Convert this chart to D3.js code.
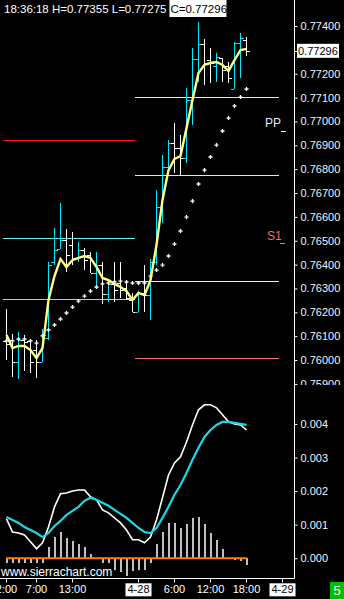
<html>
<script src="https://d3js.org/d3.v7.min.js"></script>
<style>
body {margin:0; background:#000;}
svg {display:block; background:#000; font-family:"Liberation Sans", Arial, sans-serif;}
</style>
<body>
<svg width=344 height=599></svg>
<script>
// hourly bars, 4-27 2:00 .. 4-28 18:00
var opens  = [0.76080,0.76084,0.75992,0.76084,0.76080,0.76042,0.75992,0.76092,0.76411,0.76465,0.76503,0.76482,0.76428,0.76461,0.76440,0.76365,0.76398,0.76277,0.76319,0.76323,0.76302,0.76252,0.76201,0.76281,0.76272,0.76411,0.76641,0.76809,0.76910,0.76889,0.76847,0.77090,0.77262,0.77325,0.77257,0.77232,0.77266,0.77232,0.77136,0.77329,0.77340];
var highs  = [0.76214,0.76109,0.76117,0.76105,0.76084,0.76084,0.76130,0.76411,0.76553,0.76658,0.76549,0.76537,0.76495,0.76469,0.76453,0.76453,0.76411,0.76319,0.76411,0.76411,0.76327,0.76281,0.76289,0.76398,0.76423,0.76713,0.76859,0.76922,0.76993,0.76943,0.77140,0.77308,0.77417,0.77346,0.77308,0.77287,0.77266,0.77249,0.77333,0.77371,0.77355];
var lows   = [0.76000,0.75929,0.75920,0.75954,0.75946,0.75925,0.75992,0.76084,0.76398,0.76465,0.76369,0.76398,0.76411,0.76377,0.76365,0.76306,0.76235,0.76243,0.76243,0.76260,0.76252,0.76201,0.76201,0.76201,0.76168,0.76398,0.76574,0.76775,0.76784,0.76775,0.76826,0.76985,0.77165,0.77153,0.77161,0.77165,0.77165,0.77161,0.77136,0.77182,0.77275];
var closes = [0.76067,0.75992,0.76084,0.76075,0.75992,0.75992,0.76105,0.76398,0.76461,0.76503,0.76440,0.76428,0.76461,0.76419,0.76365,0.76398,0.76277,0.76319,0.76293,0.76293,0.76260,0.76201,0.76281,0.76272,0.76411,0.76641,0.76809,0.76910,0.76889,0.76847,0.77090,0.77262,0.77325,0.77245,0.77245,0.77270,0.77216,0.77182,0.77329,0.77350,0.77296];
var fastMA = [0.76105,0.76050,0.76059,0.76059,0.76042,0.76008,0.76050,0.76252,0.76352,0.76423,0.76390,0.76419,0.76428,0.76436,0.76428,0.76390,0.76344,0.76335,0.76319,0.76306,0.76289,0.76252,0.76281,0.76272,0.76335,0.76482,0.76671,0.76796,0.76843,0.76855,0.76972,0.77090,0.77203,0.77237,0.77245,0.77249,0.77237,0.77211,0.77257,0.77299,0.77304];
var slowMA = [0.76080,0.76080,0.76088,0.76088,0.76080,0.76071,0.76101,0.76126,0.76147,0.76172,0.76197,0.76222,0.76247,0.76268,0.76289,0.76306,0.76319,0.76323,0.76327,0.76331,0.76327,0.76323,0.76323,0.76323,0.76352,0.76377,0.76398,0.76436,0.76486,0.76541,0.76599,0.76666,0.76738,0.76796,0.76851,0.76901,0.76960,0.77014,0.77065,0.77102,0.77136];
var macd   = [0.00117,0.00078,0.00075,0.00069,0.00049,0.00028,0.00046,0.00093,0.00153,0.00192,0.00194,0.00200,0.00203,0.00203,0.00183,0.00174,0.00144,0.00135,0.00120,0.00105,0.00084,0.00055,0.00055,0.00046,0.00063,0.00114,0.00180,0.00248,0.00284,0.00302,0.00346,0.00397,0.00442,0.00457,0.00457,0.00448,0.00427,0.00406,0.00400,0.00397,0.00382];
var signal = [0.00123,0.00114,0.00105,0.00093,0.00084,0.00075,0.00063,0.00075,0.00096,0.00111,0.00129,0.00141,0.00153,0.00171,0.00180,0.00174,0.00165,0.00156,0.00144,0.00132,0.00120,0.00105,0.00090,0.00078,0.00075,0.00090,0.00120,0.00153,0.00189,0.00218,0.00254,0.00293,0.00329,0.00361,0.00382,0.00397,0.00406,0.00406,0.00403,0.00400,0.00397];
var hist   = [-0.00015,-0.00015,-0.00015,-0.00015,-0.00015,-0.00015,-0.00015,0.00034,0.00063,0.00078,0.00060,0.00052,0.00043,0.00034,0.00013,-0.00002,-0.00014,-0.00014,-0.00035,-0.00041,-0.00053,-0.00038,-0.00035,-0.00035,-0.00014,0.00043,0.00078,0.00105,0.00105,0.00090,0.00102,0.00120,0.00123,0.00102,0.00075,0.00055,0.00028,-0.00002,-0.00005,-0.00008,-0.00020];

// 0.773 is hidden behind the last-price tag
var priceTicks = [0.759,0.760,0.761,0.762,0.763,0.764,0.765,0.766,0.767,0.768,0.769,0.770,0.771,0.772,0.774];
var macdTicks  = [0.000,0.001,0.002,0.003,0.004];
var timeIdx    = [0,5,11,22,28,34,40,46];
var timeLabels = ["2:00","7:00","13:00","4-28","6:00","12:00","18:00","4-29"];

// pivot lines: previous day (left) and current day (right)
var levelPrices = [0.76922,0.76510,0.76254,0.77101,0.76774,0.76331,0.76007];
var levelFrom   = [-0.5,-0.5,-0.5,21.5,21.5,21.5,21.5];
var levelTo     = [21.5,21.5,21.5,45.5,45.5,45.5,45.5];
var levelColors = ["#ff1010","#66eeff","#66eeff","#a8ffff","#a8ffff","#f0f0f0","#ff6a6a"];

var svg = d3.select("svg");
var x = d3.scaleLinear().domain([-1,48]).range([0,294]);
var y = d3.scaleLinear().domain([0.75887,0.77509]).range([387,0]);
var ym = d3.scaleLinear().domain([-0.00059,0.00501]).range([578,390]);
var idx = d3.range(closes.length);

// price axis (clipped at panel bottom)
svg.append("clipPath").attr("id","pclip").append("rect").attr("x",0).attr("y",0).attr("width",344).attr("height",385);
var pax = svg.append("g").attr("clip-path","url(#pclip)")
  .attr("transform","translate(294.5,0)")
  .call(d3.axisRight(y).tickValues(priceTicks).tickFormat(d3.format(".5f")).tickSize(3).tickSizeOuter(0));
pax.select(".domain").remove();
var max = svg.append("g").attr("transform","translate(294.5,0)")
  .call(d3.axisRight(ym).tickValues(macdTicks).tickFormat(d3.format(".3f")).tickSize(3).tickSizeOuter(0));
max.select(".domain").remove();
svg.selectAll(".tick line").attr("stroke","#fff");
svg.selectAll(".tick text").attr("fill","#eef4ff").style("font-size","11px").style("font-family","Liberation Sans, Arial");

// frame lines
svg.append("line").attr("x1",294.5).attr("x2",294.5).attr("y1",0).attr("y2",578.5).attr("stroke","#fff");

// time axis
var tax = svg.append("g").attr("transform","translate(0,578.5)")
  .call(d3.axisBottom(x).tickValues(timeIdx).tickFormat(function(d,i){return timeLabels[i];}).tickSize(4).tickSizeOuter(0));
tax.select(".domain").attr("stroke","#fff").attr("d","M0,0H294.5");
tax.selectAll(".tick line").attr("stroke","#fff");
tax.selectAll(".tick text").attr("fill","#fff").style("font-size","11px").style("font-family","Liberation Sans, Arial");
tax.selectAll(".tick").filter(function(d,i){return timeLabels[i].indexOf("-")>0;}).each(function(){
  var g = d3.select(this), t = g.select("text"), b = t.node().getBBox();
  g.insert("rect","text").attr("x",b.x-2).attr("y",b.y).attr("width",b.width+4).attr("height",b.height+1).attr("fill","#fff");
  t.attr("fill","#000");
});

// pivot lines
svg.append("g").selectAll("line").data(levelPrices).enter().append("line")
  .attr("x1",function(d,i){return x(levelFrom[i]);})
  .attr("x2",function(d,i){return x(levelTo[i]);})
  .attr("y1",function(d){return Math.round(y(d))+0.5;})
  .attr("y2",function(d){return Math.round(y(d))+0.5;})
  .attr("stroke",function(d,i){return levelColors[i];});

svg.append("text").attr("x",265).attr("y",127).attr("fill","#dcecff").style("font-size","12px").text("PP");
svg.append("line").attr("x1",281).attr("x2",286).attr("y1",131.5).attr("y2",131.5).attr("stroke","#fff");
svg.append("text").attr("x",267).attr("y",240).attr("fill","#ff6a6a").style("font-size","12px").text("S1");
svg.append("line").attr("x1",280).attr("x2",285).attr("y1",243.5).attr("y2",243.5).attr("stroke","#ff6a6a");

// OHLC bars
var bars = svg.append("g").attr("shape-rendering","crispEdges").selectAll("g").data(idx).enter().append("g")
  .attr("stroke",function(i){return closes[i]>opens[i]?"#00e8ff":"#fff";});
bars.append("line").attr("x1",function(i){return x(i)+0.5;}).attr("x2",function(i){return x(i)+0.5;})
  .attr("y1",function(i){return y(highs[i]);}).attr("y2",function(i){return y(lows[i]);});
bars.append("line").attr("x1",function(i){return x(i)-3;}).attr("x2",function(i){return x(i);})
  .attr("y1",function(i){return Math.round(y(opens[i]))+0.5;}).attr("y2",function(i){return Math.round(y(opens[i]))+0.5;});
bars.append("line").attr("x1",function(i){return x(i)+1;}).attr("x2",function(i){return x(i)+4;})
  .attr("y1",function(i){return Math.round(y(closes[i]))+0.5;}).attr("y2",function(i){return Math.round(y(closes[i]))+0.5;});

// slow MA as dots
svg.append("g").selectAll("path").data(idx).enter().append("path")
  .attr("d",d3.symbol(d3.symbolCross).size(9))
  .attr("transform",function(i){return "translate("+(x(i)+0.5)+","+y(slowMA[i])+")";})
  .attr("fill","#fff");

// fast MA
svg.append("path").datum(idx)
  .attr("d",d3.line().x(function(i){return x(i)+0.5;}).y(function(i){return y(fastMA[i]);}))
  .attr("fill","none").attr("stroke","#ffff80").attr("stroke-width",2.4);

// MACD histogram
svg.append("g").attr("shape-rendering","crispEdges").selectAll("rect").data(idx).enter().append("rect")
  .attr("x",function(i){return x(i);}).attr("width",2)
  .attr("y",function(i){return Math.min(ym(hist[i]),ym(0));})
  .attr("height",function(i){return Math.abs(ym(hist[i])-ym(0));})
  .attr("fill","#c0c0c0");
svg.append("line").attr("x1",x(0)).attr("x2",x(40)+1).attr("y1",ym(0)).attr("y2",ym(0))
  .attr("stroke","#ff8000").attr("stroke-width",2);
svg.append("path").datum(idx)
  .attr("d",d3.line().x(function(i){return x(i)+0.5;}).y(function(i){return ym(macd[i]);}))
  .attr("fill","none").attr("stroke","#fff").attr("stroke-width",1.6);
svg.append("path").datum(idx)
  .attr("d",d3.line().x(function(i){return x(i)+0.5;}).y(function(i){return ym(signal[i]);}))
  .attr("fill","none").attr("stroke","#18d8ec").attr("stroke-width",2.2);

svg.append("text").attr("x",1).attr("y",576).attr("fill","#fff").style("font-size","12px").text("www.sierrachart.com");

// header
var last = closes.length-1;
var fmt = d3.format(".5f");
var h1 = svg.append("text").attr("x",4).attr("y",13).attr("fill","#fff").style("font-size","11.5px")
  .text("18:36:18 H="+fmt(highs[last])+" L="+fmt(lows[last]));
var w1 = h1.node().getComputedTextLength() + 3;
svg.append("rect").attr("x",4+w1).attr("y",0).attr("width",57).attr("height",17).attr("fill","#fff");
svg.append("text").attr("x",4+w1+1).attr("y",13).attr("fill","#000").style("font-size","11.5px").text("C="+fmt(closes[last]));

// last price tag
var ly = y(closes[last]);
svg.append("line").attr("x1",294).attr("x2",297).attr("y1",Math.round(ly)+0.5).attr("y2",Math.round(ly)+0.5).attr("stroke","#fff");
svg.append("rect").attr("x",297).attr("y",ly-7).attr("width",42).attr("height",14).attr("fill","#fff");
svg.append("text").attr("x",298).attr("y",ly+4).attr("fill","#000").style("font-size","11px").text(fmt(closes[last]));

// green box
svg.append("rect").attr("x",330).attr("y",582).attr("width",14).attr("height",17).attr("fill","#00c000");
svg.append("text").attr("x",337).attr("y",595).attr("text-anchor","middle").attr("fill","#fff").style("font-size","13px").text("5");
</script>
</body>
</html>
